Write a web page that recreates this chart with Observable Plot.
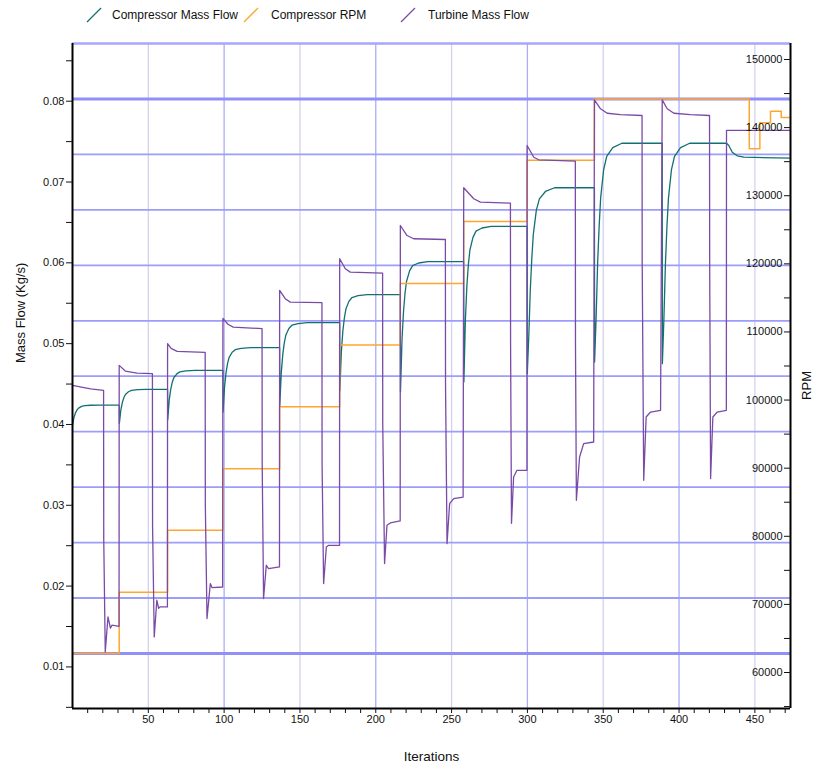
<!DOCTYPE html>
<html>
<head>
<meta charset="utf-8">
<script src="https://cdn.jsdelivr.net/npm/d3@7"></script>
<script src="https://cdn.jsdelivr.net/npm/@observablehq/plot@0.6"></script>
<style>
  body { margin: 0; background: #fff; font-family: "Liberation Sans", Arial, sans-serif; }
  #wrap { position: relative; width: 817px; height: 774px; overflow: hidden; background: #fff; }
  #legend { position: relative; width: 817px; height: 30px; }
  .item { position: absolute; top: 6px; height: 18px; font-size: 12px; color: #111; display: flex; align-items: center; white-space: nowrap; }
  .item svg { margin-right: 8px; }
</style>
</head>
<body>
<div id="wrap"><div id="legend"></div><div id="chart"></div></div>
<script>
// ---- axis / tick data ----
const xDomain = [0, 473.5];
const mfDomain = [0.004855, 0.08714];     // left axis (Mass Flow, Kg/s)
const rpmDomain = [54717, 152348];        // right axis (RPM)
const xMajor = [50, 100, 150, 200, 250, 300, 350, 400, 450];
const xMinor = [10,20,30,40,60,70,80,90,110,120,130,140,160,170,180,190,210,220,230,240,260,270,280,290,310,320,330,340,360,370,380,390,410,420,430,440,460,470];
const mfMajor = [0.01, 0.02, 0.03, 0.04, 0.05, 0.06, 0.07, 0.08];
const mfMinor = [0.005, 0.015, 0.025, 0.035, 0.045, 0.055, 0.065, 0.075, 0.085];
const rpmMajor = [60000, 70000, 80000, 90000, 100000, 110000, 120000, 130000, 140000, 150000];
const rpmMinor = [55000, 65000, 75000, 85000, 95000, 105000, 115000, 125000, 135000, 145000];
const gridRpm = [62800, 70940, 79080, 87220, 95360, 103500, 111640, 119780, 127920, 136060, 144200];

// ---- series: [iteration, value] ----
const compressorMassFlow = [
[0,0.0399],[1,0.0409],[2,0.04145],[3,0.0418],[4,0.04203],[6,0.04223],[8,0.04233],[12,0.04238],[18,0.0424],[30.8,0.0424],
[30.9,0.04014],[31.9,0.04182],[32.9,0.04274],[33.9,0.04333],[34.9,0.04371],[36.9,0.04405],[38.9,0.04421],[42.9,0.0443],[48.9,0.04434],[62.7,0.04434],
[62.8,0.0406],[63.8,0.04304],[64.8,0.04438],[65.8,0.04523],[66.8,0.04578],[68.8,0.04626],[70.8,0.04651],[74.8,0.04663],[80.8,0.04669],[99.2,0.04669],
[99.3,0.04154],[100.3,0.04472],[101.3,0.04648],[102.3,0.04759],[103.3,0.0483],[105.3,0.04894],[107.3,0.04926],[111.3,0.04942],[117.3,0.0495],[136.6,0.0495],
[136.7,0.04236],[137.7,0.04645],[138.7,0.0487],[139.7,0.05013],[140.7,0.05106],[142.7,0.05187],[144.7,0.05228],[148.7,0.05249],[154.7,0.05259],[176.2,0.05259],
[176.3,0.04422],[177.3,0.04896],[178.3,0.05156],[179.3,0.0532],[180.3,0.05428],[182.3,0.05523],[184.3,0.05571],[188.3,0.05594],[194.3,0.05606],[216.2,0.05606],
[216.3,0.04401],[217.3,0.05046],[218.3,0.05401],[219.3,0.05627],[220.3,0.05772],[222.3,0.059],[224.3,0.05966],[228.3,0.05998],[234.3,0.06014],[258.0,0.06014],
[258.1,0.04525],[259.1,0.05295],[260.1,0.05719],[261.1,0.05988],[262.1,0.06161],[264.1,0.06315],[266.1,0.06392],[270.1,0.06431],[276.1,0.0645],[299.8,0.0645],
[299.9,0.04628],[300.9,0.05088],[301.9,0.05663],[302.9,0.06055],[303.9,0.06354],[305.9,0.06653],[307.9,0.06791],[311.9,0.06883],[317.9,0.06929],[344.2,0.06929],
[344.3,0.04772],[345.3,0.05314],[346.3,0.05991],[347.3,0.06451],[348.3,0.06803],[350.3,0.07155],[352.3,0.07318],[356.3,0.07426],[362.3,0.0748],[388.9,0.0748],
[389.0,0.04752],[390.0,0.05298],[391.0,0.05978],[392.0,0.06443],[393.0,0.06798],[395.0,0.07153],[397.0,0.07317],[401.0,0.07425],[407.0,0.0748],[431.3,0.0748],
[432.8,0.07451],[435.1,0.07369],[438.4,0.07324],[442.7,0.07307],[473.5,0.07295]
];

const compressorRpm = [
[0,62800],[30.8,71800],[62.7,80900],[99.2,89900],[136.6,99000],[176.2,108100],[216.2,117100],
[258.0,126200],[299.8,135200],[344.2,144200],[446.3,136900],[453.3,140700],[460.3,142400],[467.4,141500],[473.5,141500]
];

const turbineMassFlow = [
[0,0.04484],[5,0.04465],[12,0.0444],[20.5,0.04422],[20.6,0.0259],[21.6,0.01186],[23.4,0.01618],[25.0,0.01479],[26.0,0.01516],[30.7,0.01503],
[30.8,0.04731],[34.8,0.04661],[42.5,0.04636],[52.7,0.04628],
[52.8,0.0275],[53.9,0.01371],[55.6,0.01825],[56.8,0.01726],[57.7,0.01742],[62.6,0.01742],
[62.7,0.0500],[65,0.04941],[69,0.04904],[87.5,0.04892],
[87.6,0.03],[88.7,0.01599],[90.9,0.02031],[92.0,0.01982],[99.0,0.01989],
[99.2,0.05312],[102.5,0.0524],[106,0.05205],[125.0,0.05186],
[125.1,0.035],[126.0,0.01846],[127.8,0.02258],[129.3,0.02217],[136.5,0.02237],
[136.6,0.05659],[140.3,0.05556],[143.6,0.05514],[164.5,0.05507],
[164.6,0.035],[165.6,0.02031],[167.4,0.02484],[168.9,0.02505],[176.1,0.02505],
[176.2,0.06051],[179.9,0.05927],[183.2,0.05885],[204.5,0.05873],
[204.6,0.04],[205.8,0.02279],[207.4,0.02752],[209.6,0.02781],[216.1,0.02806],
[216.2,0.06462],[220.6,0.06338],[225.0,0.06298],[245.9,0.06289],
[246.0,0.045],[247.0,0.02526],[248.7,0.03021],[251.4,0.03083],[257.6,0.03102],
[258.0,0.06929],[264.6,0.06793],[269.0,0.06751],[288.8,0.06738],
[288.9,0.05],[289.5,0.02777],[290.9,0.0335],[293.1,0.03433],[299.7,0.03433],
[299.8,0.07452],[304.2,0.07307],[307.5,0.07275],[331.6,0.07258],
[331.7,0.05],[332.3,0.03062],[334.4,0.03597],[337.1,0.03763],[343.7,0.03783],
[344.2,0.08017],[348.2,0.07906],[352.6,0.07851],[361.4,0.07835],[375.6,0.07823],
[375.7,0.06],[376.7,0.03309],[378.3,0.04092],[381.2,0.04154],[387.8,0.04175],
[388.9,0.08017],[392.2,0.07906],[396.6,0.07851],[407.6,0.07835],[420.1,0.07823],
[420.2,0.06],[420.8,0.0333],[422.3,0.04092],[425.2,0.04154],[431.2,0.04175],
[431.3,0.0764],[473.5,0.0764]
];

const seriesNames = ["Compressor Mass Flow", "Compressor RPM", "Turbine Mass Flow"];
const seriesColors = ["#137070", "#ffa630", "#7a4ba6"];

// ---- legend ----
const legendPos = [[86, 112], [243, 271], [400, 428]];
const legend = document.getElementById("legend");
seriesNames.forEach((name, i) => {
  const icon = document.createElement("div");
  icon.className = "item";
  icon.style.left = legendPos[i][0] + "px";
  icon.innerHTML = `<svg width="16" height="16"><line x1="1" y1="15" x2="15" y2="1" stroke="${seriesColors[i]}" stroke-width="1.3"/></svg>`;
  legend.appendChild(icon);
  const label = document.createElement("div");
  label.className = "item";
  label.style.left = legendPos[i][1] + "px";
  label.textContent = name;
  legend.appendChild(label);
});

// ---- chart ----
const rpmToMf = d3.scaleLinear().domain(rpmDomain).range(mfDomain);

const chart = Plot.plot({
  width: 817,
  height: 744,
  marginTop: 13,
  marginBottom: 66,
  marginLeft: 72,
  marginRight: 27,
  x: {domain: xDomain},
  y: {domain: mfDomain},
  style: {fontFamily: '"Liberation Sans", Arial, sans-serif', fontSize: "11px", color: "#111", background: "white", overflow: "visible"},
  marks: [
    Plot.ruleX(xMajor.filter(d => d % 100 !== 0), {stroke: "#d2d2ee", strokeWidth: 1.3}),
    Plot.ruleX(xMajor.filter(d => d % 100 === 0), {stroke: "#acacf6", strokeWidth: 1.3}),
    Plot.ruleY(gridRpm.slice(1, -1), {y: d => rpmToMf(d), stroke: "#9d9dfb", strokeWidth: 1.8}),
    Plot.ruleY([gridRpm[0], gridRpm[gridRpm.length - 1]], {y: d => rpmToMf(d), stroke: "#9090f8", strokeWidth: 3}),
    Plot.line(compressorMassFlow, {x: d => d[0], y: d => d[1], stroke: seriesColors[0], strokeWidth: 1.3}),
    Plot.line(compressorRpm, {x: d => d[0], y: d => rpmToMf(d[1]), curve: "step-after", stroke: seriesColors[1], strokeWidth: 1.5}),
    Plot.line(turbineMassFlow, {x: d => d[0], y: d => d[1], stroke: seriesColors[2], strokeWidth: 1.3}),
    Plot.ruleY([mfDomain[1]], {stroke: "#a6a6ff", strokeWidth: 2.5}),
    Plot.ruleX([xDomain[0], xDomain[1]], {stroke: "black", strokeWidth: 2}),
    Plot.ruleY([mfDomain[0]], {stroke: "black", strokeWidth: 2}),
    Plot.axisX({ticks: xMajor, tickSize: 5, tickPadding: 2, tickFormat: d => String(d), label: null, fontSize: 11}),
    Plot.axisX({ticks: xMinor, tickSize: 5, tickFormat: () => "", label: null}),
    Plot.axisY({anchor: "left", ticks: mfMajor, tickSize: 6, tickPadding: 2, tickFormat: d3.format(".2f"), label: null, fontSize: 11}),
    Plot.axisY({anchor: "left", ticks: mfMinor, tickSize: 6, tickFormat: () => "", label: null}),
    Plot.axisY({anchor: "right", ticks: rpmMajor.map(d => rpmToMf(d)), tickSize: -7, tickPadding: -1, textAnchor: "end",
      tickFormat: v => String(Math.round(rpmToMf.invert(v) / 100) * 100), label: null, fontSize: 11}),
    Plot.axisY({anchor: "right", ticks: rpmMinor.map(d => rpmToMf(d)), tickSize: -7, tickFormat: () => "", label: null}),
    Plot.text(["Iterations"], {text: d => d, frameAnchor: "bottom", dy: 52, fontSize: 13.5, fill: "#111"}),
    Plot.text(["Mass Flow (Kg/s)"], {text: d => d, frameAnchor: "left", dx: -52, dy: -13, rotate: -90, fontSize: 13, fill: "#111"}),
    Plot.text(["RPM"], {text: d => d, frameAnchor: "right", dx: 16, dy: -5, rotate: -90, fontSize: 13, fill: "#111"})
  ]
});
document.getElementById("chart").appendChild(chart);
</script>
</body>
</html>
